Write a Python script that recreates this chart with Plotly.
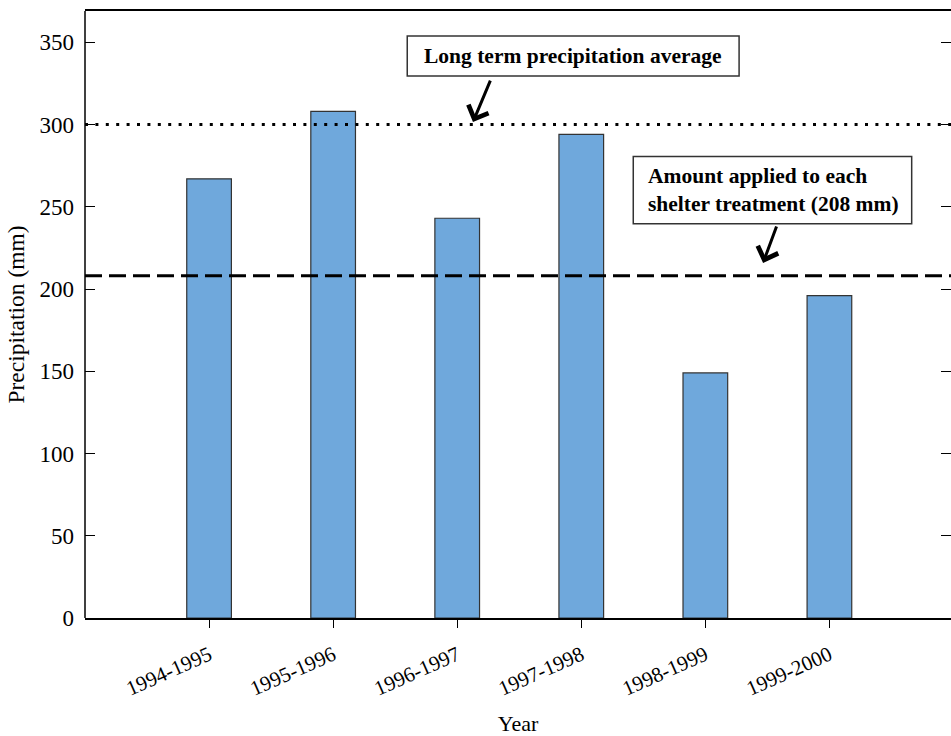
import plotly.graph_objects as go

# Seasonal precipitation totals (mm)
years = ["1994-1995", "1995-1996", "1996-1997", "1997-1998", "1998-1999", "1999-2000"]
precip = [267, 308, 243, 294, 149, 196]

# Reference levels (mm)
long_term_avg = 300
applied_amount = 208

y_ticks = [0, 50, 100, 150, 200, 250, 300, 350]

FONT = "Times New Roman, Liberation Serif, serif"

fig = go.Figure()

fig.add_trace(go.Bar(
    x=years,
    y=precip,
    width=0.36,
    marker=dict(color="#6fa8dc", line=dict(color="#333333", width=1.2)),
    showlegend=False,
))

# Long-term average (dotted) and applied amount (dashed)
fig.add_shape(type="line", xref="paper", x0=0, x1=1, yref="y",
              y0=long_term_avg, y1=long_term_avg,
              line=dict(color="black", width=3.2, dash="3px,7.4px"), layer="above")
fig.add_shape(type="line", xref="paper", x0=0, x1=1, yref="y",
              y0=applied_amount, y1=applied_amount,
              line=dict(color="black", width=3, dash="17px,7px"), layer="above")

# Left frame edge (the right edge falls just outside the page)
fig.add_shape(type="line", xref="paper", yref="paper", x0=0, x1=0, y0=0, y1=1,
              line=dict(color="black", width=1.5), layer="above")

# Labelled boxes
fig.add_shape(type="rect", xref="paper", yref="paper",
              x0=0.3721, x1=0.7553, y0=0.8929, y1=0.9588,
              line=dict(color="#333333", width=1.5), fillcolor="white", layer="above")
fig.add_annotation(
    xref="paper", yref="paper", x=0.5637, y=0.9259, xanchor="center", yanchor="middle",
    text="<b>Long term precipitation average</b>",
    showarrow=False, font=dict(family=FONT, size=21.5, color="black"),
)
fig.add_shape(type="rect", xref="paper", yref="paper",
              x0=0.6331, x1=0.9546, y0=0.6494, y1=0.7603,
              line=dict(color="#333333", width=1.5), fillcolor="white", layer="above")
fig.add_annotation(
    xref="paper", yref="paper", x=0.6478, y=0.7045, xanchor="left", yanchor="middle",
    text="<b>Amount applied to each<br>shelter treatment (208 mm)</b>",
    showarrow=False, align="left", font=dict(family=FONT, size=21.5, color="black"),
)

# Arrows pointing from the boxes to the lines
fig.add_annotation(
    xref="paper", yref="paper", x=0.448, y=0.817, text="",
    showarrow=True, arrowhead=4, arrowsize=1.4, arrowwidth=3, arrowcolor="black",
    ax=18, ay=-43,
)
fig.add_annotation(
    xref="paper", yref="paper", x=0.783, y=0.585, text="",
    showarrow=True, arrowhead=4, arrowsize=1.4, arrowwidth=3, arrowcolor="black",
    ax=14, ay=-38,
)

fig.update_layout(
    width=951, height=736,
    margin=dict(l=85, r=0, t=11, b=118),
    paper_bgcolor="white", plot_bgcolor="white",
    font=dict(family=FONT, size=21, color="black"),
)

fig.update_xaxes(
    type="category", range=[-1, 5.98],
    showline=True, linecolor="black", linewidth=1.5, mirror=True,
    ticks="outside", ticklen=8, tickwidth=1.2, tickcolor="black",
    tickangle=-24, tickfont=dict(family=FONT, size=21, color="black"),
    ticklabelstandoff=7,
    showgrid=False, zeroline=False,
    title=dict(text="Year", font=dict(family=FONT, size=22, color="black"), standoff=20),
)
fig.update_yaxes(
    range=[0, 369], tickvals=y_ticks,
    showline=False, mirror="ticks",
    ticks="inside", ticklen=10, tickwidth=1.2, tickcolor="black",
    tickfont=dict(family=FONT, size=23, color="black"), ticklabelstandoff=10,
    showgrid=False, zeroline=False,
    title=dict(text="Precipitation (mm)", font=dict(family=FONT, size=23.5, color="black"), standoff=8),
)

fig.write_html("out.html")
